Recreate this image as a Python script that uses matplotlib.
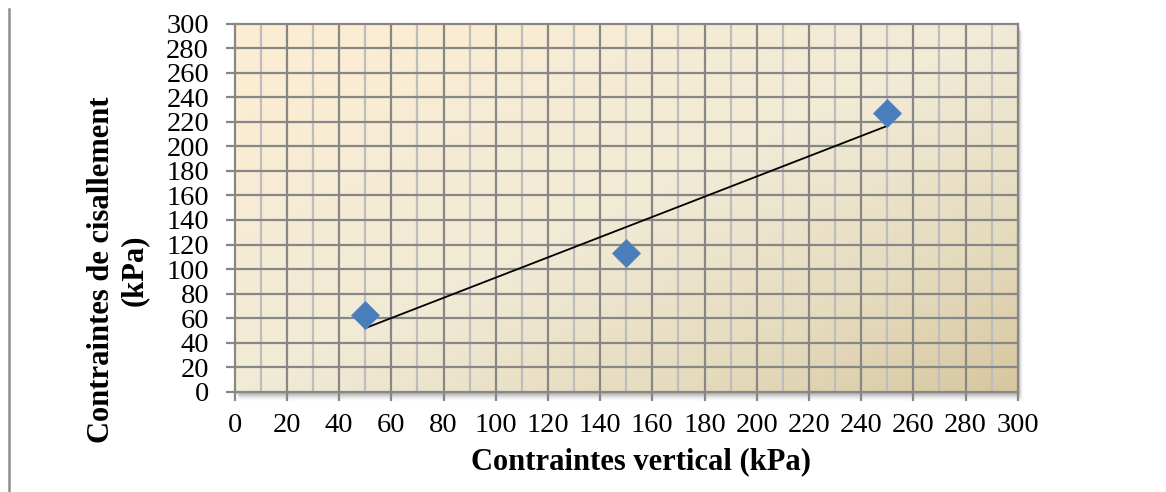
import numpy as np
import matplotlib
matplotlib.use('Agg')
import matplotlib.pyplot as plt
from matplotlib.colors import LinearSegmentedColormap
from matplotlib.patches import Rectangle
from matplotlib.lines import Line2D

# essais de cisaillement
contrainte_verticale = [50, 150, 250]
contrainte_cisaillement = [62.5, 112.8, 227.4]

ticks_x = list(range(0, 301, 20))
ticks_y = list(range(0, 301, 20))

plt.rcParams['font.family'] = ['Liberation Serif', 'DejaVu Serif']

fig = plt.figure(figsize=(11.66, 4.92), dpi=100)
fig.patch.set_facecolor('white')

gauche, bas = 234.7 / 1166, 1 - 391.7 / 492
larg, haut = (1017.7 - 234.7) / 1166, (391.7 - 23.7) / 492

# ombre portée du cadre
for k, a in zip(range(1, 9), np.linspace(0.07, 0.01, 8)):
    dx, dy = (k + 1) / 1166, (k + 1) / 492
    fig.patches.append(Rectangle((gauche + dx * 0.6, bas - dy), larg, haut,
                                 transform=fig.transFigure, facecolor='black',
                                 edgecolor='none', alpha=a, zorder=0))

ax = fig.add_axes([gauche, bas, larg, haut])
ax.set_zorder(1)

# fond en dégradé diagonal (clair en haut à gauche, foncé en bas à droite)
cmap = LinearSegmentedColormap.from_list(
    'fond', [(0, '#fdeed2'), (0.5, '#f1ead6'), (0.78, '#e5dbbd'), (1, '#d7c7a0')])
gx, gy = np.meshgrid(np.linspace(0, 1, 400), np.linspace(0, 1, 200))
ax.imshow((gx + gy) / 2, cmap=cmap, extent=[0, 300, 0, 300], origin='upper',
          aspect='auto', interpolation='bilinear', zorder=0)

ax.set_xlim(0, 300)
ax.set_ylim(0, 300)

# quadrillage
for v in range(10, 300, 20):
    ax.axvline(v, color='#bdbdbd', lw=1.6, zorder=1)
for v in range(20, 300, 20):
    ax.axvline(v, color='#878787', lw=1.6, zorder=1)
for v in range(20, 300, 20):
    ax.axhline(v, color='#878787', lw=1.6, zorder=1)

for s in ax.spines.values():
    s.set_color('#878787')
    s.set_linewidth(1.6)

ax.set_xticks(ticks_x)
ax.set_yticks(ticks_y)
ax.tick_params(axis='both', color='#878787', width=1.6, length=6.5,
               labelsize=20.5)
ax.tick_params(axis='x', pad=9)
ax.tick_params(axis='y', pad=12)

# points de mesure
ax.plot(contrainte_verticale, contrainte_cisaillement, linestyle='none',
        marker='D', markersize=14, color='#4a7ebb', markeredgecolor='#5585c0',
        markeredgewidth=0.6, zorder=4, clip_on=False)

# droite de régression
pente, origine = np.polyfit(contrainte_verticale, contrainte_cisaillement, 1)
xr = np.array([min(contrainte_verticale), max(contrainte_verticale)])
ax.plot(xr, pente * xr + origine, color='black', lw=1.3, zorder=3)

fig.text(118 / 1166, 1 - 270 / 492, 'Contraintes de cisallement\n(kPa)',
         rotation=90, ha='center', va='center', multialignment='center',
         fontsize=22, fontweight='bold', linespacing=1.15)
fig.text(641 / 1166, 1 - 462 / 492, 'Contraintes vertical (kPa)',
         ha='center', va='center', fontsize=22, fontweight='bold')

# filet vertical en marge
fig.add_artist(Line2D([9 / 1166, 9 / 1166], [0, 1 - 9 / 492],
                      transform=fig.transFigure, color='#8c8c8c', lw=1.8))

fig.savefig('out.png', dpi=100)
